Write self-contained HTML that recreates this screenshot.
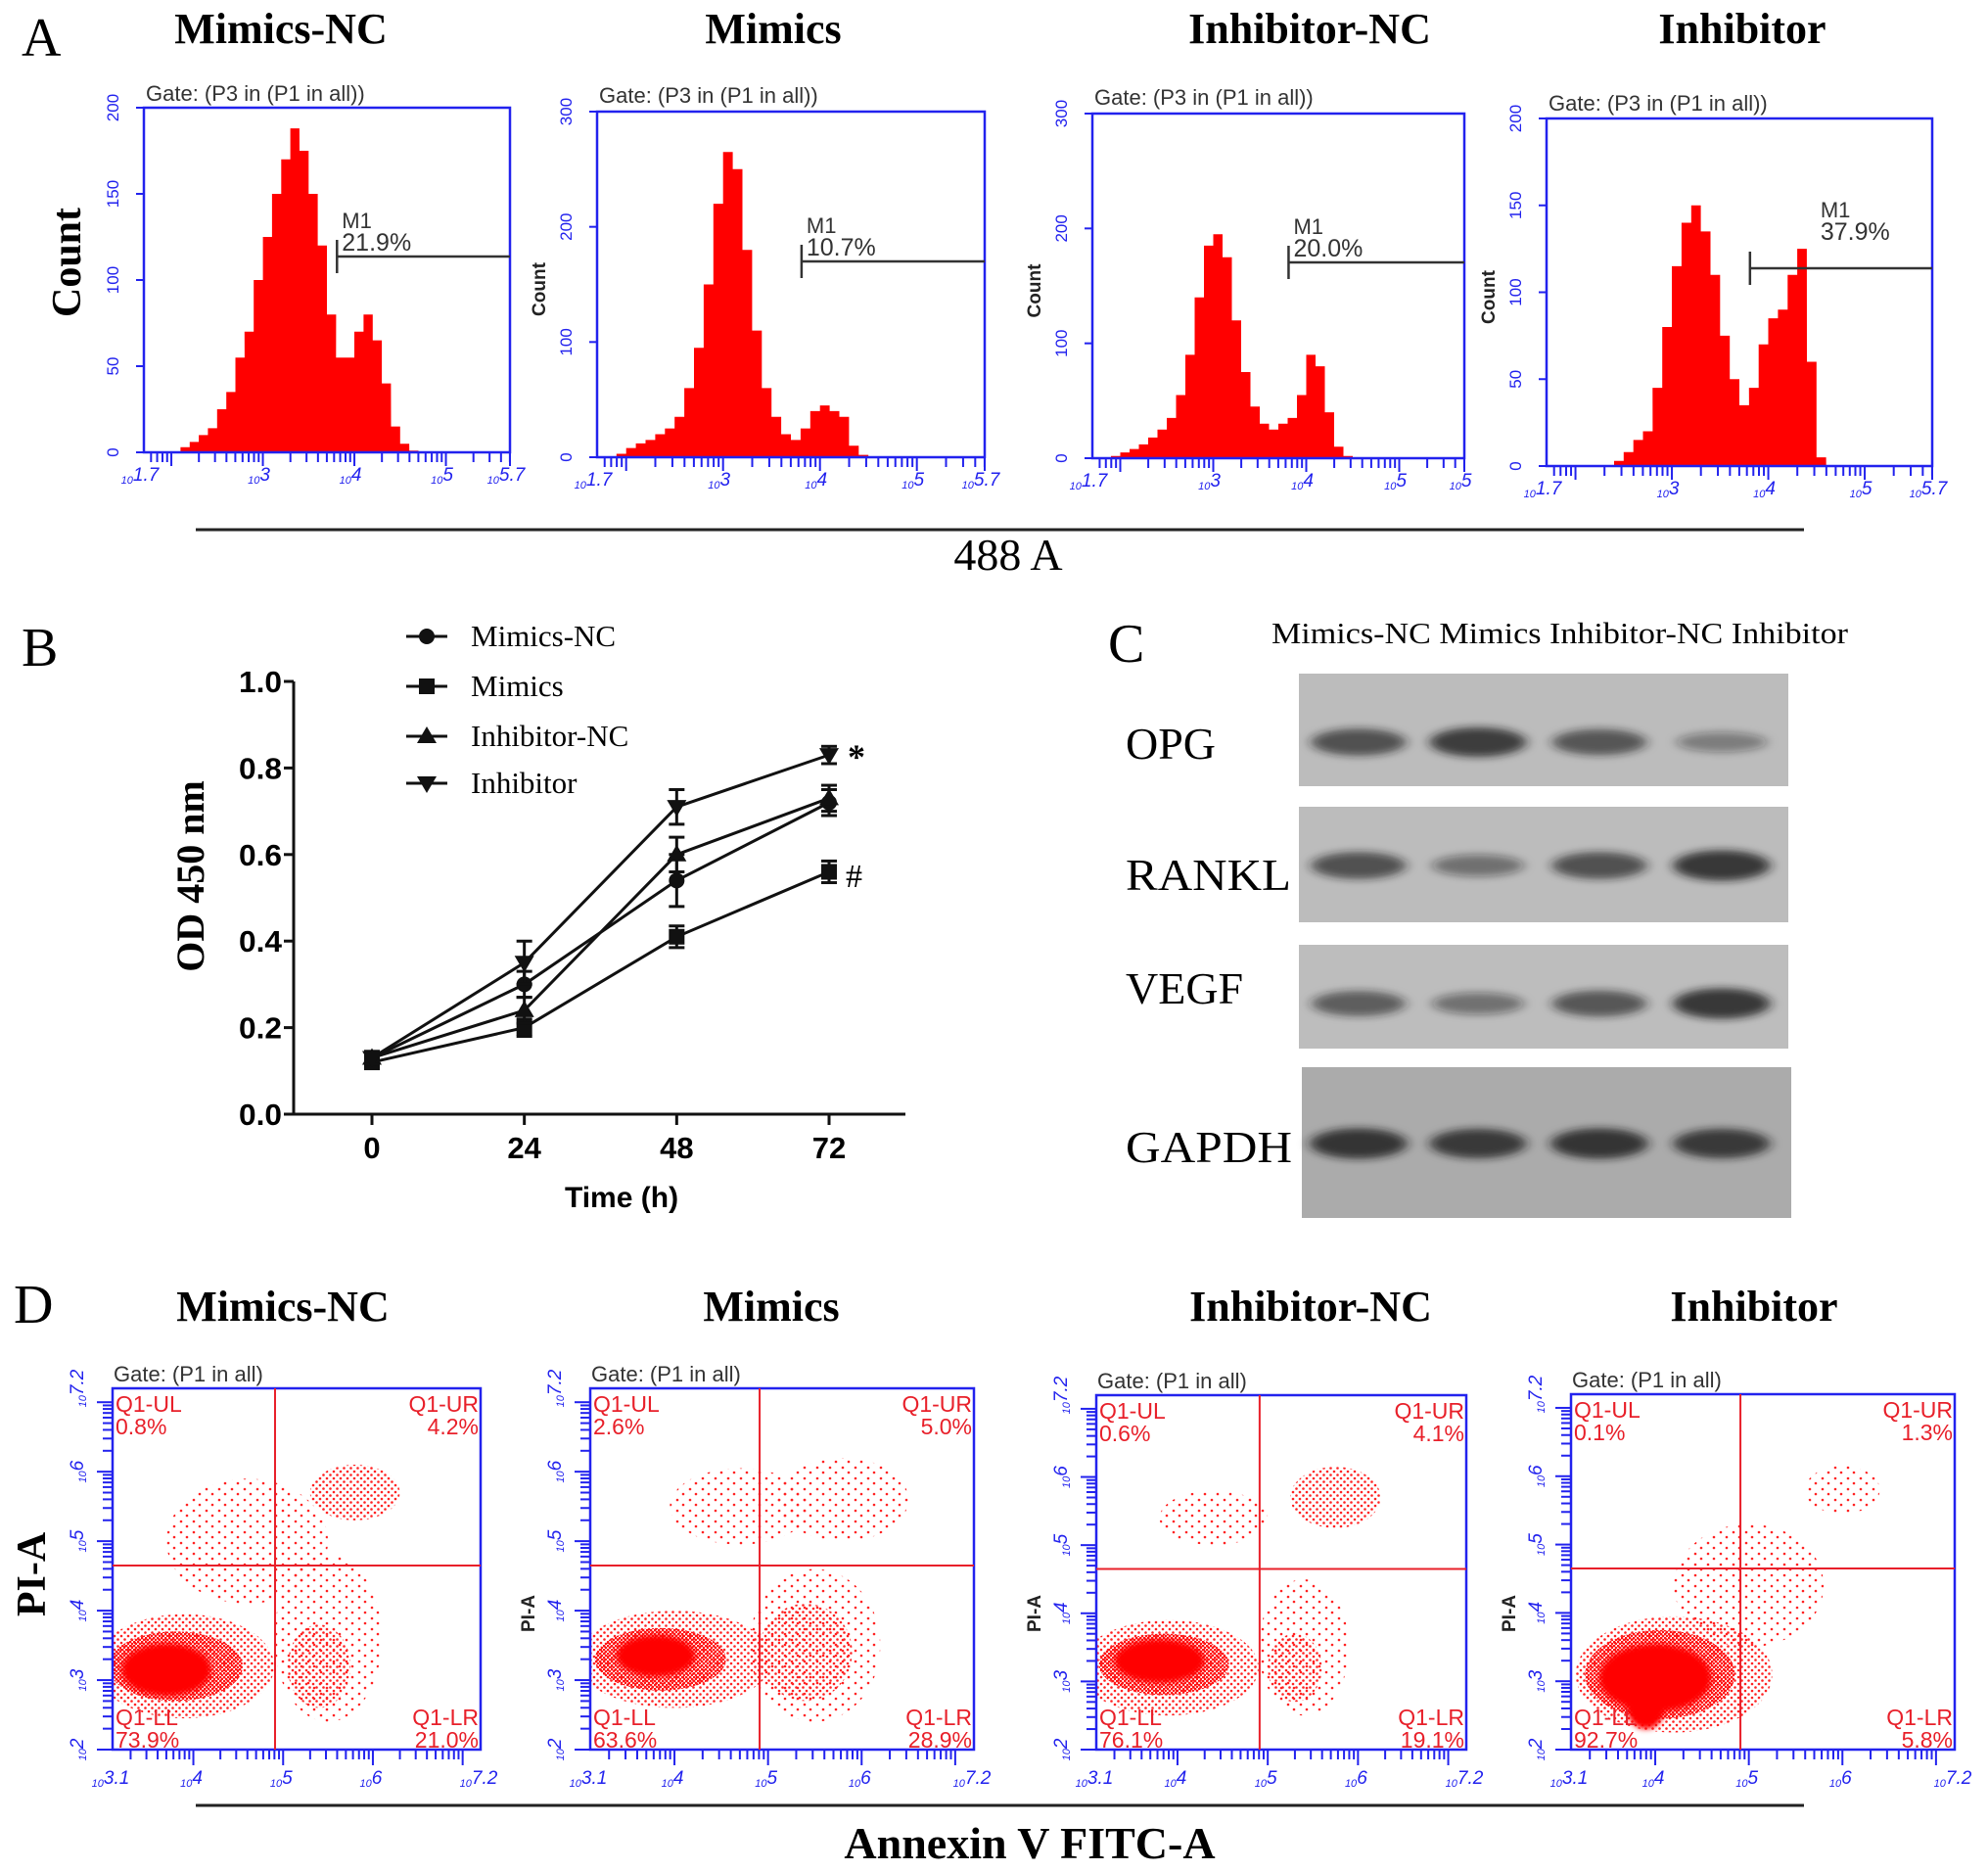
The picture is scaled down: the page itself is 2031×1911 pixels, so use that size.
<!DOCTYPE html>
<html><head><meta charset="utf-8"><style>
html,body{margin:0;padding:0;background:#fff;}
svg{display:block;}
.ser{font-family:"Liberation Serif",serif;}
.san{font-family:"Liberation Sans",sans-serif;}
</style></head><body>
<svg id="fig" width="2031" height="1911" viewBox="0 0 2031 1911" xmlns="http://www.w3.org/2000/svg">
<defs>
<pattern id="dotS" width="13" height="11" patternUnits="userSpaceOnUse"><circle cx="3" cy="3" r="1.3" fill="#f22"/><circle cx="9" cy="8" r="1.3" fill="#f22"/></pattern>
<pattern id="dotM" width="7" height="7" patternUnits="userSpaceOnUse"><circle cx="1.5" cy="1.5" r="1.3" fill="#f22"/><circle cx="5" cy="5" r="1.3" fill="#f22"/></pattern>
<pattern id="dotD" width="4" height="4" patternUnits="userSpaceOnUse"><circle cx="1" cy="1" r="1.4" fill="#f11"/><circle cx="3" cy="3" r="1.2" fill="#f11"/></pattern>
<filter id="blurB" x="-30%" y="-80%" width="160%" height="260%"><feGaussianBlur stdDeviation="6 4"/></filter>
<filter id="blurC" x="-30%" y="-30%" width="160%" height="160%"><feGaussianBlur stdDeviation="3"/></filter>
</defs>
<g id="root"></g>
</svg>
<script>
const NS='http://www.w3.org/2000/svg';
const root=document.getElementById('root');
function mk(tag,attrs,parent){const e=document.createElementNS(NS,tag);for(const k in attrs)e.setAttribute(k,attrs[k]);(parent||root).appendChild(e);return e;}
function txt(s,attrs,parent){const e=mk('text',attrs,parent);e.textContent=s;return e;}
const BLUE='#2222ee';

// ---------- Panel A: histogram data (counts per 0.1 log bin, centres 1.75..5.65) ----------
const histBinStart=1.7, histBinStep=0.1;
const histMimicsNC=[0,0,0,0,3,6,10,14,25,35,55,70,100,125,150,170,188,175,150,120,80,55,55,70,80,65,40,15,5,1,0,0,0,0,0,0,0,0,0,0];
const histMimics=[0,0,3,8,12,15,20,25,35,60,95,150,220,265,250,180,110,60,35,20,15,25,40,45,40,35,10,2,0,0,0,0,0,0,0,0,0,0,0,0];
const histInhibitorNC=[0,0,2,5,8,12,18,25,35,55,90,140,185,195,175,120,75,45,30,25,30,35,55,90,80,40,10,2,0,0,0,0,0,0,0,0,0,0,0,0];
const histInhibitor=[0,0,0,0,0,0,0,3,8,15,20,45,80,115,140,150,135,110,75,50,35,45,70,85,90,110,125,60,5,0,0,0,0,0,0,0,0,0,0,0];
const histTitles=['Mimics-NC','Mimics','Inhibitor-NC','Inhibitor'];
const histPercents=['21.9%','10.7%','20.0%','37.9%'];
const histYTicks=[[0,50,100,150,200],[0,100,200,300],[0,100,200,300],[0,50,100,150,200]];
const histXTickLabels=[['1.7','3','4','5','5.7'],['1.7','3','4','5','5.7'],['1.7','3','4','5','5'],['1.7','3','4','5','5.7']];
const histXTickLogs=[1.7,3,4,5,5.7];
const histGateLog=3.81;

const histLayout=[
 {x0:147,x1:521,yt:110,yb:462,tx:287,gy:103,m1y:262,big:true},
 {x0:610,x1:1006,yt:114,yb:467,tx:790,gy:105,m1y:267},
 {x0:1116,x1:1496,yt:116,yb:468,tx:1338,gy:107,m1y:268},
 {x0:1580,x1:1974,yt:121,yb:476,tx:1780,gy:113,m1y:274}];
const histData=[histMimicsNC,histMimics,histInhibitorNC,histInhibitor];

const lA=txt('A',{x:22,y:57,'font-size':56,class:'ser'});



histLayout.forEach((L,p)=>{
  const g=mk('g',{});
  
  
  const maxV=histYTicks[p][histYTicks[p].length-1];
  const xs=v=>L.x0+(v-1.7)/4*(L.x1-L.x0);
  const ys=c=>L.yb-c/maxV*(L.yb-L.yt);
  const t=txt(histTitles[p],{x:L.tx,y:44,'font-size':44,'font-weight':'bold','text-anchor':'middle',class:'ser'},g);
  
  
  const gt=txt('Gate: (P3 in (P1 in all))',{x:L.x0+2,y:L.gy,'font-size':22,fill:'#333',class:'san'},g);
  
  
  let d='M'+xs(1.7)+','+L.yb;
  histData[p].forEach((c,i)=>{const a=histBinStart+i*histBinStep;d+=' L'+xs(a).toFixed(1)+','+ys(c).toFixed(1)+' L'+xs(a+histBinStep).toFixed(1)+','+ys(c).toFixed(1);});
  d+=' L'+xs(5.7)+','+L.yb+' Z';
  const h=mk('path',{d:d,fill:'#ff0000'},g);
  
  
  const box=mk('rect',{x:L.x0,y:L.yt,width:L.x1-L.x0,height:L.yb-L.yt,fill:'none',stroke:BLUE,'stroke-width':2.5},g);
  
  
  histYTicks[p].forEach(v=>{
    mk('line',{x1:L.x0-8,x2:L.x0,y1:ys(v),y2:ys(v),stroke:BLUE,'stroke-width':2},g);
    const yl=txt(String(v),{x:0,y:0,'font-size':17,fill:BLUE,'text-anchor':'middle',class:'san',transform:'translate('+(L.x0-26)+','+ys(v)+') rotate(-90)'},g);
    
    
  });
  for(let dec=1;dec<=5;dec++){for(let m=1;m<10;m++){const lv=dec+Math.log10(m);if(lv<1.7||lv>5.7)continue;
    mk('line',{x1:xs(lv),x2:xs(lv),y1:L.yb,y2:L.yb+(m===1?14:10),stroke:BLUE,'stroke-width':2},g);}}
  mk('line',{x1:xs(5.7),x2:xs(5.7),y1:L.yb,y2:L.yb+14,stroke:BLUE,'stroke-width':2},g);
  histXTickLogs.forEach((lv,i)=>{
    const xl=txt('',{x:xs(lv)-4,y:L.yb+32,'font-size':11,fill:BLUE,'text-anchor':'middle',class:'san','font-style':'italic'},g);
    const a=document.createElementNS(NS,'tspan');a.textContent='10';xl.appendChild(a);
    const b=document.createElementNS(NS,'tspan');b.textContent=histXTickLabels[p][i];b.setAttribute('font-size','19');b.setAttribute('dy','-3');xl.appendChild(b);
    
    
  });
  const gx=xs(histGateLog);
  mk('line',{x1:gx,x2:gx,y1:L.m1y-17,y2:L.m1y+17,stroke:'#333','stroke-width':2.5},g);
  const gl=mk('line',{x1:gx,x2:L.x1,y1:L.m1y,y2:L.m1y,stroke:'#333','stroke-width':2.5},g);
  
  
  const tx0=p===3?gx+72:gx+5;
  const mt=txt('M1',{x:tx0,y:p===3?222:L.m1y-29,'font-size':22,fill:'#333',class:'san'},g);
  
  
  const pt=txt(histPercents[p],{x:tx0,y:p===3?245:L.m1y-6,'font-size':25,fill:'#333',class:'san'},g);
  
  
  if(L.big){const c=txt('Count',{x:0,y:0,'font-size':42,'font-weight':'bold','text-anchor':'middle',class:'ser',transform:'translate(82,268) rotate(-90)'},g);
    }
  else{const c=txt('Count',{x:0,y:0,'font-size':19,'font-weight':'bold','text-anchor':'middle',fill:'#222',class:'san',transform:'translate('+(L.x0-53)+','+((L.yt+L.yb)/2+5)+') rotate(-90)'},g);
    }
});
const aLine=mk('line',{x1:200,x2:1843,y1:541,y2:541,stroke:'#222','stroke-width':3});


const aT=txt('488 A',{x:1030,y:582,'font-size':46,'text-anchor':'middle',class:'ser'});



// ---------- Panel B: line chart ----------
const bTimes=[0,24,48,72];
const bSeriesNames=['Mimics-NC','Mimics','Inhibitor-NC','Inhibitor'];
const bMimicsNC=[0.13,0.30,0.54,0.72];
const bMimics=[0.12,0.20,0.41,0.56];
const bInhibitorNC=[0.13,0.24,0.60,0.73];
const bInhibitor=[0.13,0.35,0.71,0.83];
const bErrMimicsNC=[0.015,0.03,0.06,0.03];
const bErrMimics=[0.015,0.02,0.025,0.025];
const bErrInhibitorNC=[0.015,0.03,0.04,0.03];
const bErrInhibitor=[0.015,0.05,0.04,0.02];
const bYTicks=[0,0.2,0.4,0.6,0.8,1.0];
const bYTickLabels=['0.0','0.2','0.4','0.6','0.8','1.0'];
const bXTickLabels=['0','24','48','72'];
const bX=h=>380+h/72*467;
const bY=v=>1138-v*442;
const lB=txt('B',{x:22,y:680,'font-size':56,class:'ser'});


const gB=mk('g',{});


const yAx=mk('line',{x1:300,x2:300,y1:bY(1),y2:1139.5,stroke:'#111','stroke-width':3},gB);


const xAx=mk('line',{x1:298.5,x2:925,y1:1138,y2:1138,stroke:'#111','stroke-width':3},gB);


bYTicks.forEach((v,i)=>{
  mk('line',{x1:290,x2:300,y1:bY(v),y2:bY(v),stroke:'#111','stroke-width':3},gB);
  const l=txt(bYTickLabels[i],{x:288,y:bY(v)+11,'font-size':31,'font-weight':'bold','text-anchor':'end',class:'san',textLength:44,lengthAdjust:'spacingAndGlyphs'},gB);
  
  
});
bTimes.forEach((t,i)=>{
  mk('line',{x1:bX(t),x2:bX(t),y1:1138,y2:1149,stroke:'#111','stroke-width':3},gB);
  const l=txt(bXTickLabels[i],{x:bX(t),y:1183,'font-size':31,'font-weight':'bold','text-anchor':'middle',class:'san'},gB);
  
  
});
const yT=txt('OD 450 nm',{x:0,y:0,'font-size':40,'font-weight':'bold','text-anchor':'middle',class:'ser',transform:'translate(208,895) rotate(-90)'},gB);


const xT=txt('Time (h)',{x:635,y:1233,'font-size':30,'font-weight':'bold','text-anchor':'middle',class:'san'},gB);


function marker(type,cx,cy,parent){
  if(type===0)return mk('circle',{cx:cx,cy:cy,r:8,fill:'#111'},parent);
  if(type===1)return mk('rect',{x:cx-8,y:cy-8,width:16,height:16,fill:'#111'},parent);
  if(type===2)return mk('path',{d:`M${cx},${cy-10} L${cx+10},${cy+7} L${cx-10},${cy+7} Z`,fill:'#111'},parent);
  return mk('path',{d:`M${cx},${cy+10} L${cx+10},${cy-7} L${cx-10},${cy-7} Z`,fill:'#111'},parent);
}
const bVals=[bMimicsNC,bMimics,bInhibitorNC,bInhibitor];
const bErrs=[bErrMimicsNC,bErrMimics,bErrInhibitorNC,bErrInhibitor];
bVals.forEach((vals,s)=>{
  const gs=mk('g',{},gB);
  
  
  const pl=mk('polyline',{points:vals.map((v,i)=>bX(bTimes[i])+','+bY(v)).join(' '),fill:'none',stroke:'#111','stroke-width':3},gs);
  
  
  vals.forEach((v,i)=>{
    const x=bX(bTimes[i]),e=bErrs[s][i];
    mk('line',{x1:x,x2:x,y1:bY(v+e),y2:bY(v-e),stroke:'#111','stroke-width':3},gs);
    mk('line',{x1:x-8,x2:x+8,y1:bY(v+e),y2:bY(v+e),stroke:'#111','stroke-width':3},gs);
    mk('line',{x1:x-8,x2:x+8,y1:bY(v-e),y2:bY(v-e),stroke:'#111','stroke-width':3},gs);
    const m=marker(s,x,bY(v),gs);
    
    
  });
  const ly=[650,701,752,800][s];
  const lg=mk('g',{},gB);
  
  
  mk('line',{x1:415,x2:457,y1:ly,y2:ly,stroke:'#111','stroke-width':3},lg);
  marker(s,436,ly,lg);
  txt(bSeriesNames[s],{x:481,y:ly+10,'font-size':31,class:'ser'},lg);
});
const star=txt('*',{x:866,y:785,'font-size':36,'font-weight':'bold',class:'ser'},gB);


const hash=txt('#',{x:864,y:906,'font-size':34,class:'ser'},gB);



// ---------- Panel C: western blot ----------
const blotProteins=['OPG','RANKL','VEGF','GAPDH'];
const blotOPG=[0.75,0.9,0.7,0.35];
const blotRANKL=[0.75,0.45,0.75,0.95];
const blotVEGF=[0.65,0.45,0.7,0.95];
const blotGAPDH=[0.95,0.9,0.95,0.9];
const blotLanes=['Mimics-NC','Mimics','Inhibitor-NC','Inhibitor'];
const blotIntensities=[blotOPG,blotRANKL,blotVEGF,blotGAPDH];
const blotRows=[{y0:688,y1:803,by:758,ly:775,bg:'#bcbcbc'},{y0:824,y1:942,by:884,ly:909,bg:'#bcbcbc'},{y0:965,y1:1071,by:1025,ly:1025,bg:'#bdbdbd'},{y0:1090,y1:1244,by:1168,ly:1187,bg:'#ababab'}];
const laneX=[1388,1510,1634,1759];
const lC=txt('C',{x:1132,y:676,'font-size':56,class:'ser'});


const hdr=txt('Mimics-NC Mimics Inhibitor-NC Inhibitor',{x:1299,y:657,'font-size':31,class:'ser',textLength:589,lengthAdjust:'spacingAndGlyphs'});


blotRows.forEach((R,r)=>{
  const g=mk('g',{});
  
  
  mk('rect',{x:r===3?1330:1327,y:R.y0,width:500,height:R.y1-R.y0,fill:R.bg},g);
  blotIntensities[r].forEach((v,i)=>{
    const b=mk('ellipse',{cx:laneX[i],cy:R.by,rx:44+v*6,ry:7+v*9,fill:'#1a1a1a','fill-opacity':(0.15+v*0.7).toFixed(2),filter:'url(#blurB)'},g);
    
    
  });
  const l=txt(blotProteins[r],{x:1150,y:R.ly,'font-size':46,class:'ser'},g);
  if(r===1){l.setAttribute('textLength','169');l.setAttribute('lengthAdjust','spacingAndGlyphs');}
  if(r===3){l.setAttribute('textLength','170');l.setAttribute('lengthAdjust','spacingAndGlyphs');}
  
  
});

// ---------- Panel D: apoptosis scatter ----------
const scTitles=['Mimics-NC','Mimics','Inhibitor-NC','Inhibitor'];
const scUL=['0.8%','2.6%','0.6%','0.1%'];
const scUR=['4.2%','5.0%','4.1%','1.3%'];
const scLL=['73.9%','63.6%','76.1%','92.7%'];
const scLR=['21.0%','28.9%','19.1%','5.8%'];
// clusters: [xLog, yLog, rxLog, ryLog, density(0 sparse,1 med,2 dense,3 solid)]
const scClustersMimicsNC=[[4.6,5.0,0.9,0.9,0],[5.5,3.6,0.6,1.2,0],[5.8,5.7,0.5,0.4,1],[5.4,3.2,0.35,0.6,1],[3.9,3.2,1.0,0.75,1],[3.8,3.2,0.75,0.5,2],[3.7,3.15,0.5,0.38,3]];
const scClustersMimics=[[4.7,5.5,0.75,0.55,0],[5.8,5.6,0.7,0.6,0],[5.5,3.5,0.7,1.1,0],[5.4,3.4,0.5,0.7,1],[4.0,3.3,1.05,0.7,1],[3.85,3.3,0.7,0.45,2],[3.8,3.35,0.42,0.3,3]];
const scClustersInhibitorNC=[[4.4,5.4,0.6,0.4,0],[5.4,3.5,0.5,1.0,0],[5.75,5.7,0.5,0.45,1],[5.3,3.2,0.3,0.5,1],[3.9,3.2,1.0,0.7,1],[3.85,3.25,0.72,0.45,2],[3.8,3.3,0.5,0.32,3]];
const scClustersInhibitor=[[5.0,4.4,0.8,0.9,0],[6.0,5.8,0.4,0.35,0],[4.2,3.1,1.05,0.85,1],[4.05,3.1,0.8,0.65,2],[4.0,3.05,0.6,0.5,3],[3.9,2.6,0.2,0.3,3]];
const scClusters=[scClustersMimicsNC,scClustersMimics,scClustersInhibitorNC,scClustersInhibitor];
const scXTickLabels=['3.1','4','5','6','7.2'];
const scXTickLogs=[3.1,4,5,6,7.2];
const scYTickLabels=['2','3','4','5','6','7.2'];
const scYTickLogs=[2,3,4,5,6,7.2];
const scGateX=4.91, scGateY=4.65;
const scLayout=[{x0:115,x1:491,yt:1418,yb:1787,tx:289,big:true},{x0:603,x1:995,yt:1418,yb:1787,tx:788},{x0:1120,x1:1498,yt:1425,yb:1787,tx:1339},{x0:1605,x1:1997,yt:1424,yb:1787,tx:1792}];
const fills=['url(#dotS)','url(#dotM)','url(#dotD)','#ff0000'];
const lD=txt('D',{x:14,y:1351,'font-size':56,class:'ser'});


scLayout.forEach((L,p)=>{
  const g=mk('g',{});
  
  
  const xs=v=>L.x0+(v-3.1)/4.1*(L.x1-L.x0);
  const ys=v=>L.yb-(v-2)/5.2*(L.yb-L.yt);
  const t=txt(scTitles[p],{x:L.tx,y:1349,'font-size':44,'font-weight':'bold','text-anchor':'middle',class:'ser'},g);
  
  
  const gt=txt('Gate: (P1 in all)',{x:L.x0+1,y:L.yt-7,'font-size':22,fill:'#333',class:'san'},g);
  
  
  const cp='clip'+p;
  const clip=mk('clipPath',{id:cp},g);
  mk('rect',{x:L.x0,y:L.yt,width:L.x1-L.x0,height:L.yb-L.yt},clip);
  const cg=mk('g',{'clip-path':'url(#'+cp+')'},g);
  scClusters[p].forEach(c=>{
    const e=mk('ellipse',{cx:xs(c[0]),cy:ys(c[1]),rx:c[2]/4.1*(L.x1-L.x0),ry:c[3]/5.2*(L.yb-L.yt),fill:fills[c[4]]},cg);
    if(c[4]===3)e.setAttribute('filter','url(#blurC)');
    
    
  });
  const box=mk('rect',{x:L.x0,y:L.yt,width:L.x1-L.x0,height:L.yb-L.yt,fill:'none',stroke:BLUE,'stroke-width':2.5},g);
  
  
  const qv=mk('line',{x1:xs(scGateX),x2:xs(scGateX),y1:L.yt,y2:L.yb,stroke:'#e8202a','stroke-width':2},g);
  
  
  const qh=mk('line',{x1:L.x0,x2:L.x1,y1:ys(scGateY),y2:ys(scGateY),stroke:'#e8202a','stroke-width':2},g);
  
  
  const q=[['Q1-UL',scUL[p],L.x0+3,'start',L.yt+24],['Q1-UR',scUR[p],L.x1-2,'end',L.yt+24],['Q1-LL',scLL[p],L.x0+3,'start',L.yb-25],['Q1-LR',scLR[p],L.x1-2,'end',L.yb-25]];
  q.forEach(a=>{
    const l1=txt(a[0],{x:a[2],y:a[4],'font-size':23,fill:'#e8202a','text-anchor':a[3],class:'san'},g);
    
    
    const l2=txt(a[1],{x:a[2],y:a[4]+23,'font-size':23,fill:'#e8202a','text-anchor':a[3],class:'san'},g);
    
    
  });
  for(let dec=2;dec<=7;dec++){for(let m=1;m<10;m++){const lv=dec+Math.log10(m);
    if(lv>=3.1&&lv<=7.2)mk('line',{x1:xs(lv),x2:xs(lv),y1:L.yb,y2:L.yb+(m===1?16:10),stroke:BLUE,'stroke-width':2},g);
    if(lv>=2&&lv<=7.2)mk('line',{x1:L.x0-(m===1?16:10),x2:L.x0,y1:ys(lv),y2:ys(lv),stroke:BLUE,'stroke-width':2},g);}}
  scXTickLogs.forEach((lv,i)=>{
    const xl=txt('',{x:xs(lv)-2,y:L.yb+38,'font-size':11,fill:BLUE,'text-anchor':'middle',class:'san','font-style':'italic'},g);
    const a=document.createElementNS(NS,'tspan');a.textContent='10';xl.appendChild(a);
    const b=document.createElementNS(NS,'tspan');b.textContent=scXTickLabels[i];b.setAttribute('font-size','19');b.setAttribute('dy','-3');xl.appendChild(b);
    
    
  });
  scYTickLogs.forEach((lv,i)=>{
    const yl=txt('',{x:0,y:0,'font-size':11,fill:BLUE,'text-anchor':'middle',class:'san','font-style':'italic',transform:'translate('+(L.x0-27)+','+ys(lv)+') rotate(-90)'},g);
    const a=document.createElementNS(NS,'tspan');a.textContent='10';yl.appendChild(a);
    const b=document.createElementNS(NS,'tspan');b.textContent=scYTickLabels[i];b.setAttribute('font-size','19');b.setAttribute('dy','-3');yl.appendChild(b);
    
    
  });
  if(L.big){const c=txt('PI-A',{x:0,y:0,'font-size':42,'font-weight':'bold','text-anchor':'middle',class:'ser',transform:'translate(46,1608) rotate(-90)'},g);
    }
  else{const c=txt('PI-A',{x:0,y:0,'font-size':19,'font-weight':'bold','text-anchor':'middle',fill:'#222',class:'san',transform:'translate('+(L.x0-57)+',1648) rotate(-90)'},g);
    }
});
const dLine=mk('line',{x1:200,x2:1843,y1:1844,y2:1844,stroke:'#222','stroke-width':3});


const dT=txt('Annexin V FITC-A',{x:1052,y:1898,'font-size':46,'font-weight':'bold','text-anchor':'middle',class:'ser'});


</script>
</body></html>
